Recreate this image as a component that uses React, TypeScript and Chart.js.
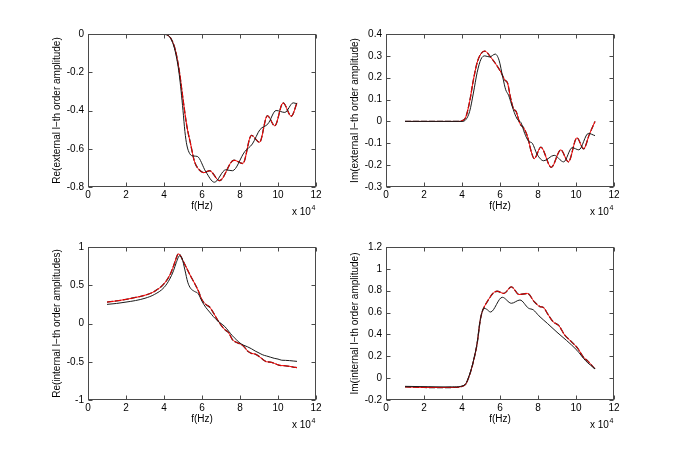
import { useEffect, useRef } from 'react';
import { Chart, registerables, type ChartConfiguration, type Plugin } from 'chart.js';

Chart.register(...registerables);

const FAMILY = '"Liberation Sans", Arial, Helvetica, sans-serif';
Chart.defaults.color = '#000';
Chart.defaults.font.family = FAMILY;
Chart.defaults.font.size = 10;

// frequency axis is in units of 1e4 Hz (the "x 10^4" multiplier)

// --- Re(external) ---
const reExtFreqA = [1, 2, 3, 3.8, 4.0, 4.2, 4.4, 4.6, 4.8, 5.0, 5.2, 5.4, 5.6, 5.85, 6.1, 6.4, 6.92, 7.68, 8.15, 8.6, 9.03, 9.44, 9.83, 10.27, 10.7, 11];
const reExtA = [0, 0, 0, 0, -0.001, -0.006, -0.03, -0.085, -0.19, -0.34, -0.48, -0.575, -0.665, -0.71, -0.725, -0.715, -0.767, -0.66, -0.677, -0.53, -0.566, -0.427, -0.48, -0.36, -0.43, -0.36];
const reExtFreqB = [1, 2, 3, 3.8, 4.0, 4.2, 4.4, 4.6, 4.8, 5.0, 5.1, 5.2, 5.35, 5.55, 5.75, 6.2, 6.65, 7.25, 7.6, 8.25, 8.65, 9.05, 9.47, 9.9, 10.36, 10.8, 11];
const reExtB = [0, 0, 0, 0, -0.001, -0.006, -0.032, -0.095, -0.21, -0.40, -0.51, -0.58, -0.625, -0.638, -0.64, -0.72, -0.775, -0.71, -0.715, -0.615, -0.575, -0.50, -0.47, -0.40, -0.41, -0.36, -0.365];

// --- Im(external) ---
const imExtFreqA = [1, 2, 3, 3.8, 4.0, 4.2, 4.4, 4.6, 4.8, 5.0, 5.2, 5.5, 5.8, 6.05, 6.25, 6.4, 6.55, 6.7, 6.85, 7.05, 7.25, 7.45, 7.65, 7.8, 8.15, 8.7, 9.2, 9.6, 10.05, 10.4, 10.7, 11];
const imExtA = [0, 0, 0, 0, 0.003, 0.02, 0.09, 0.19, 0.27, 0.31, 0.322, 0.295, 0.26, 0.225, 0.19, 0.175, 0.11, 0.06, 0.045, -0.01, -0.03, -0.07, -0.14, -0.17, -0.118, -0.21, -0.13, -0.185, -0.075, -0.125, -0.06, 0.0];
const imExtFreqB = [1, 2, 3, 3.8, 4.0, 4.2, 4.4, 4.6, 4.8, 5.0, 5.2, 5.45, 5.75, 5.95, 6.15, 6.3, 6.45, 6.6, 6.8, 6.95, 7.1, 7.3, 7.5, 7.7, 7.95, 8.3, 8.85, 9.35, 9.8, 10.15, 10.65, 11];
const imExtB = [0, 0, 0, 0, 0, 0.008, 0.045, 0.13, 0.225, 0.285, 0.30, 0.295, 0.308, 0.28, 0.2, 0.145, 0.12, 0.08, 0.03, 0.005, -0.005, -0.055, -0.09, -0.10, -0.15, -0.18, -0.155, -0.185, -0.12, -0.13, -0.055, -0.065];

// --- Re(internal) ---
const reIntFreqA = [1, 1.5, 2, 2.5, 3, 3.5, 4, 4.3, 4.5, 4.65, 4.75, 4.85, 5.0, 5.2, 5.4, 5.6, 5.8, 6.0, 6.2, 6.4, 6.6, 6.8, 7.0, 7.2, 7.4, 7.6, 7.8, 8.0, 8.2, 8.4, 8.6, 8.8, 9.0, 9.2, 9.4, 9.6, 9.8, 10.0, 10.2, 10.4, 10.6, 10.8, 11];
const reIntA = [0.28, 0.295, 0.315, 0.34, 0.37, 0.42, 0.52, 0.63, 0.75, 0.86, 0.91, 0.895, 0.82, 0.72, 0.62, 0.53, 0.43, 0.31, 0.25, 0.215, 0.14, 0.055, -0.02, -0.08, -0.12, -0.21, -0.245, -0.265, -0.30, -0.36, -0.39, -0.40, -0.43, -0.47, -0.50, -0.505, -0.52, -0.54, -0.55, -0.553, -0.56, -0.57, -0.577];
const reIntFreqB = [1, 1.5, 2, 2.5, 3, 3.5, 4, 4.3, 4.5, 4.65, 4.82, 4.95, 5.1, 5.25, 5.4, 5.6, 5.8, 6.0, 6.2, 6.4, 6.6, 6.8, 7.0, 7.2, 7.4, 7.6, 7.8, 8.0, 8.2, 8.4, 8.6, 8.8, 9.0, 9.2, 9.4, 9.6, 9.8, 10.0, 10.2, 10.4, 10.6, 10.8, 11];
const reIntB = [0.25, 0.262, 0.28, 0.30, 0.33, 0.38, 0.47, 0.58, 0.69, 0.80, 0.885, 0.85, 0.70, 0.54, 0.46, 0.42, 0.39, 0.29, 0.21, 0.15, 0.09, 0.04, 0.0, -0.04, -0.1, -0.16, -0.21, -0.256, -0.285, -0.305, -0.33, -0.36, -0.385, -0.41, -0.425, -0.44, -0.455, -0.465, -0.48, -0.482, -0.485, -0.49, -0.495];

// --- Im(internal) ---
const imIntFreqA = [1, 2, 3, 3.6, 4.0, 4.2, 4.35, 4.5, 4.65, 4.8, 4.95, 5.05, 5.15, 5.4, 5.65, 5.85, 6.2, 6.6, 7.0, 7.45, 7.8, 8.1, 8.3, 8.5, 8.8, 9.1, 9.4, 9.75, 10.1, 10.4, 10.6, 11];
const imIntA = [-0.08, -0.085, -0.086, -0.085, -0.075, -0.055, 0.005, 0.085, 0.19, 0.32, 0.52, 0.6, 0.645, 0.72, 0.78, 0.795, 0.775, 0.835, 0.765, 0.775, 0.70, 0.655, 0.645, 0.59, 0.515, 0.48, 0.395, 0.335, 0.27, 0.19, 0.16, 0.085];
const imIntFreqB = [1, 2, 3, 3.6, 4.0, 4.2, 4.35, 4.5, 4.65, 4.8, 4.95, 5.05, 5.15, 5.3, 5.5, 6.12, 6.6, 7.05, 7.5, 7.75, 8.05, 8.5, 9.0, 9.5, 10.05, 10.5, 11];
const imIntB = [-0.075, -0.078, -0.08, -0.08, -0.072, -0.05, 0.01, 0.09, 0.195, 0.325, 0.52, 0.6, 0.64, 0.63, 0.605, 0.74, 0.685, 0.715, 0.64, 0.625, 0.57, 0.50, 0.42, 0.345, 0.255, 0.16, 0.085];

const AXIS_Y_W = 37;
const AXIS_X_H = 25.5;

type PanelSpec = {
  box: [number, number, number, number]; // canvas left, top, width, height on the page
  area: [number, number, number, number]; // plot left, top, right, bottom on the page
  yMin: number;
  yMax: number;
  yStep: number;
  yTitle: string;
  fA: number[];
  vA: number[];
  fB: number[];
  vB: number[];
};

const PANELS: PanelSpec[] = [
  { box: [0, 0, 337, 225], area: [88, 34, 316, 187], yMin: -0.8, yMax: 0, yStep: 0.2,
    yTitle: 'Re(external l\u2212th order amplitude)', fA: reExtFreqA, vA: reExtA, fB: reExtFreqB, vB: reExtB },
  { box: [337, 0, 338, 225], area: [386, 34, 614, 187], yMin: -0.3, yMax: 0.4, yStep: 0.1,
    yTitle: 'Im(external l\u2212th order amplitude)', fA: imExtFreqA, vA: imExtA, fB: imExtFreqB, vB: imExtB },
  { box: [0, 225, 337, 225], area: [88, 247, 316, 400], yMin: -1, yMax: 1, yStep: 0.5,
    yTitle: 'Re(internal l\u2212th order amplitudes)', fA: reIntFreqA, vA: reIntA, fB: reIntFreqB, vB: reIntB },
  { box: [337, 225, 338, 225], area: [386, 247, 614, 400], yMin: -0.2, yMax: 1.2, yStep: 0.2,
    yTitle: 'Im(internal l\u2212th order amplitude)', fA: imIntFreqA, vA: imIntA, fB: imIntFreqB, vB: imIntB },
];

// plain number labels like MATLAB: 0, 0.5, 1, -0.2
const fmt = (v: number | string) => String(Math.round(Number(v) * 1000) / 1000 || 0);

// MATLAB-style box with inward ticks on all four sides, plus the x10^4 exponent
const matlabFrame: Plugin<'line'> = {
  id: 'matlabFrame',
  afterDatasetsDraw(chart) {
    const { ctx, chartArea: a, scales } = chart;
    const l = Math.round(a.left) + 0.5;
    const r = Math.round(a.right) - 0.5;
    const t = Math.round(a.top) + 0.5;
    const b = Math.round(a.bottom) - 0.5;
    ctx.save();
    ctx.strokeStyle = '#4a4a4a';
    ctx.lineWidth = 1;
    ctx.strokeRect(l, t, r - l, b - t);
    ctx.beginPath();
    for (const tk of scales.x.ticks) {
      const px = Math.round(scales.x.getPixelForValue(tk.value)) + 0.5;
      ctx.moveTo(px, b); ctx.lineTo(px, b - 4);
      ctx.moveTo(px, t); ctx.lineTo(px, t + 4);
    }
    for (const tk of scales.y.ticks) {
      const py = Math.round(scales.y.getPixelForValue(tk.value)) + 0.5;
      ctx.moveTo(l, py); ctx.lineTo(l + 4, py);
      ctx.moveTo(r, py); ctx.lineTo(r - 4, py);
    }
    ctx.stroke();

    ctx.fillStyle = '#000';
    ctx.textAlign = 'left';
    ctx.textBaseline = 'alphabetic';
    ctx.font = '10px ' + FAMILY;
    const x0 = a.right - 24;
    ctx.fillText('x 10', x0, a.bottom + 28);
    const w = ctx.measureText('x 10').width;
    ctx.font = '7px ' + FAMILY;
    ctx.fillText('4', x0 + w + 0.5, a.bottom + 23);
    ctx.restore();
  },
};

function buildConfig(p: PanelSpec): ChartConfiguration<'line'> {
  const [bx, by, bw, bh] = p.box;
  const [al, at, ar, ab] = p.area;
  const pts = (fs: number[], vs: number[]) => fs.map((f, i) => ({ x: f, y: vs[i] }));
  const line = { borderWidth: 1, pointRadius: 0, cubicInterpolationMode: 'monotone' as const, fill: false };
  return {
    type: 'line',
    data: {
      datasets: [
        { ...line, data: pts(p.fB, p.vB), borderColor: '#1a1a1a' },
        { ...line, data: pts(p.fA, p.vA), borderColor: '#ff0000' },
        { ...line, data: pts(p.fA, p.vA), borderColor: '#1a1a1a', borderWidth: 1.3, borderDash: [6, 2] },
      ],
    },
    options: {
      animation: false,
      responsive: false,
      events: [],
      layout: {
        padding: {
          left: al - bx - AXIS_Y_W,
          top: at - by,
          right: bx + bw - ar,
          bottom: by + bh - ab - AXIS_X_H,
        },
      },
      plugins: { legend: { display: false }, tooltip: { enabled: false } },
      scales: {
        x: {
          type: 'linear', min: 0, max: 12,
          ticks: { stepSize: 2, padding: 2, callback: fmt },
          grid: { display: false, drawTicks: false },
          border: { display: false },
          title: { display: true, text: 'f(Hz)', padding: 0 },
          afterFit: (s) => { s.height = AXIS_X_H; },
        },
        y: {
          type: 'linear', min: p.yMin, max: p.yMax,
          ticks: { stepSize: p.yStep, padding: 4, callback: fmt },
          grid: { display: false, drawTicks: false },
          border: { display: false },
          title: { display: true, text: p.yTitle, padding: 0 },
          afterFit: (s) => { s.width = AXIS_Y_W; },
        },
      },
    },
    plugins: [matlabFrame],
  };
}

function Panel({ spec }: { spec: PanelSpec }) {
  const ref = useRef<HTMLCanvasElement>(null);
  useEffect(() => {
    if (!ref.current) return;
    const chart = new Chart(ref.current, buildConfig(spec));
    return () => chart.destroy();
  }, [spec]);
  const [x, y, w, h] = spec.box;
  return (
    <canvas ref={ref} width={w} height={h}
      style={{ position: 'absolute', left: x, top: y, width: w, height: h }} />
  );
}

export default function App() {
  return (
    <div style={{ position: 'absolute', left: 0, top: 0, width: 675, height: 450, background: '#fff' }}>
      {PANELS.map((p, i) => <Panel key={i} spec={p} />)}
    </div>
  );
}
